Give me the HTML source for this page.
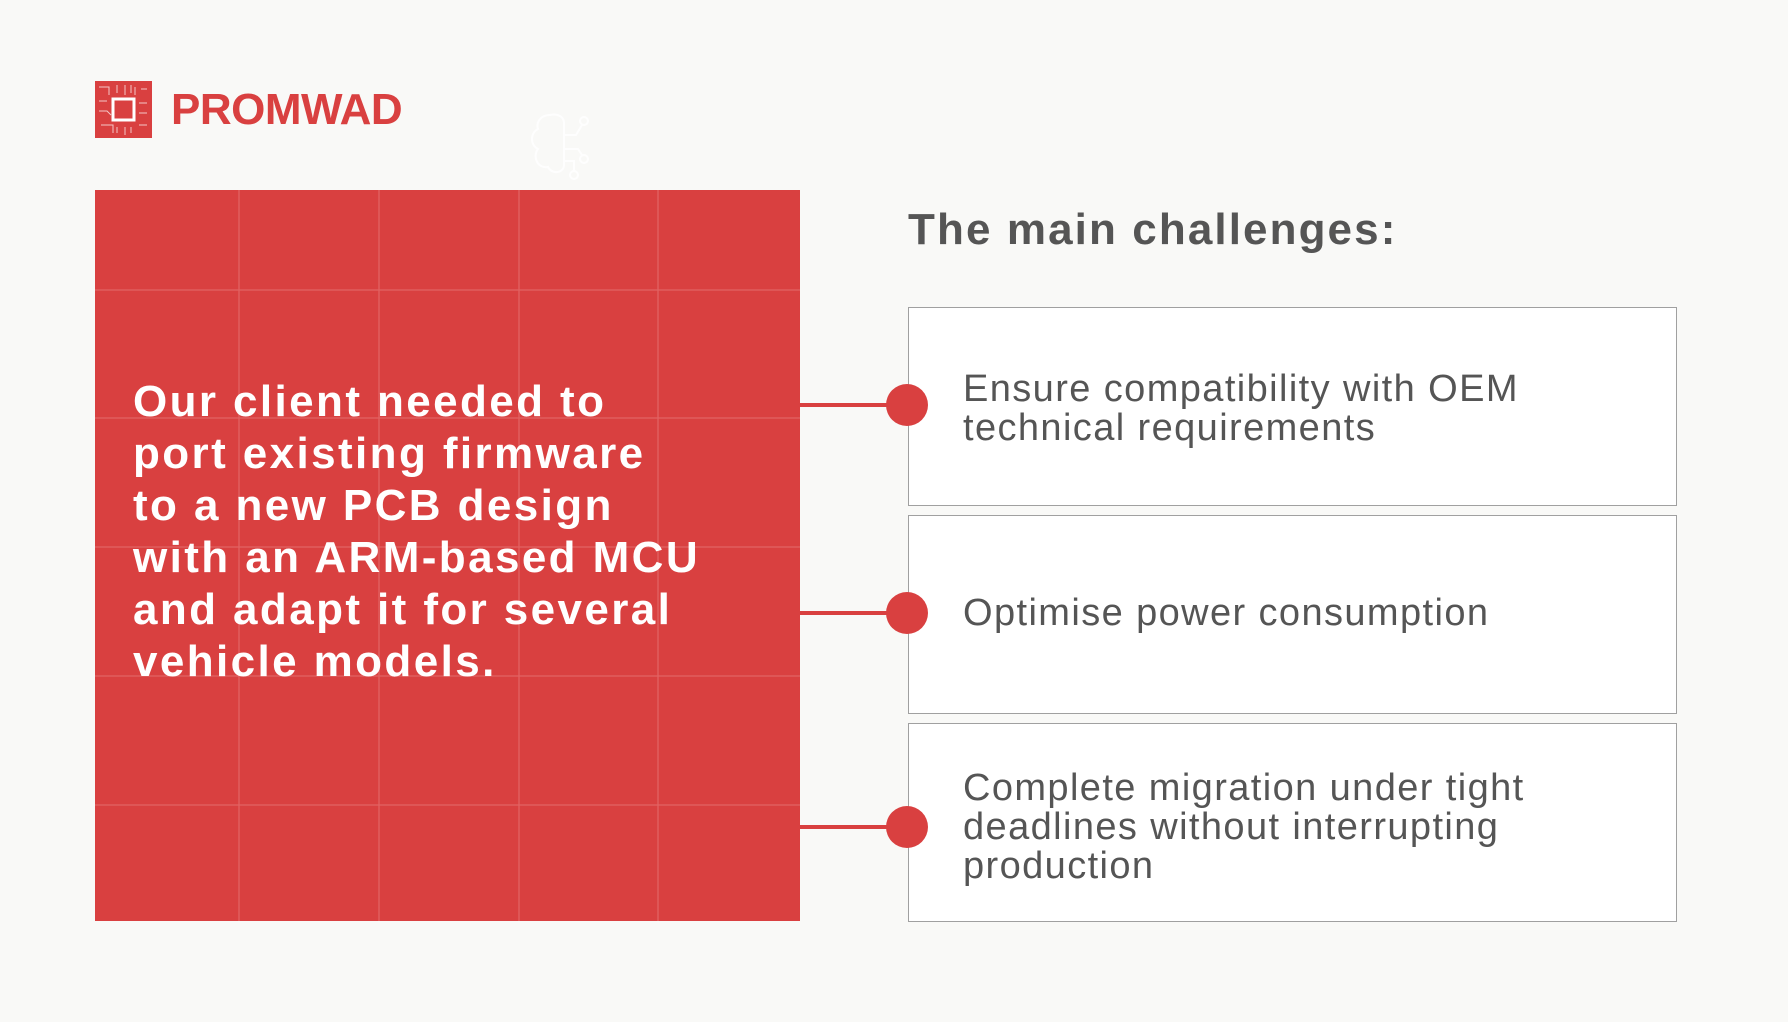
<!DOCTYPE html>
<html><head><meta charset="utf-8"><style>
body{margin:0;width:1788px;height:1022px;background:#f9f9f7;position:relative;overflow:hidden;font-family:"Liberation Sans",sans-serif}
.a{position:absolute}
.box{position:absolute;left:908px;width:769px;height:199px;background:#fff;border:1px solid #a0a0a0;box-sizing:border-box}
.ln{position:absolute;left:800px;width:108px;height:4px;background:#d94040}
.dot{position:absolute;left:886px;width:42px;height:42px;border-radius:50%;background:#d94040}
.t{position:absolute;left:963px;color:#555;font-size:38px;line-height:39px;letter-spacing:1.4px}
</style></head><body>
<svg class="a" style="left:95px;top:81px" width="57" height="57" viewBox="0 0 57 57">
<rect width="57" height="57" fill="#d94040"/>
<rect x="18" y="18" width="21" height="21" fill="none" stroke="#fff" stroke-width="3"/>
<g stroke="#fff" stroke-width="1" opacity=".7" fill="none">
<path d="M4 6h10v8M4 20h8M4 30h8l4 4M6 44h12v8M40 6v8M46 8h6M44 22h8M44 32h8M44 44h8M22 46v6M30 46v8M36 46v6M22 4v8M30 4v10M36 4v8"/>
</g></svg>
<div class="a" style="left:171px;top:85px;font-size:44px;font-weight:bold;color:#d94040;letter-spacing:-0.5px">PROMWAD</div>
<svg class="a" style="left:520px;top:105px" width="85" height="80" fill="none" stroke="#fff" stroke-width="2" opacity=".9">
<path d="M30 10c-10 0-14 8-12 14-8 4-8 16 0 20-6 8 0 20 10 18 4 8 16 6 16-2V18c0-6-6-10-14-8z"/>
<path d="M44 30h12l6-10M44 44h14l4 6M44 56h10v10"/>
<circle cx="64" cy="16" r="4"/><circle cx="64" cy="54" r="4"/><circle cx="54" cy="70" r="4"/>
</svg>
<div class="a" style="left:95px;top:190px;width:705px;height:731px;background:#d94040"></div>
<svg class="a" style="left:95px;top:190px" width="705" height="731">
<g stroke="#e26464" stroke-width="1.2">
<path d="M144 0v731M284 0v731M424 0v731M563 0v731M0 100h705M0 228h705M0 357h705M0 486h705M0 615h705"/>
</g></svg>
<div class="a" style="left:133px;top:376px;color:#fff;font-weight:bold;font-size:44px;line-height:52px;letter-spacing:2.4px;width:680px">Our client needed to<br>port existing firmware<br>to a new PCB design<br>with an ARM-based MCU<br>and adapt it for several<br>vehicle models.</div>
<div class="a" style="left:908px;top:205px;color:#555;font-weight:bold;font-size:44px;letter-spacing:2.1px">The main challenges:</div>
<div class="box" style="top:307px"></div>
<div class="box" style="top:515px"></div>
<div class="box" style="top:723px"></div>
<div class="ln" style="top:403px"></div><div class="dot" style="top:384px"></div>
<div class="ln" style="top:611px"></div><div class="dot" style="top:592px"></div>
<div class="ln" style="top:825px"></div><div class="dot" style="top:806px"></div>
<div class="t" style="top:370px">Ensure compatibility with OEM<br>technical requirements</div>
<div class="t" style="top:594px">Optimise power consumption</div>
<div class="t" style="top:769px">Complete migration under tight<br>deadlines without interrupting<br>production</div>
</body></html>
